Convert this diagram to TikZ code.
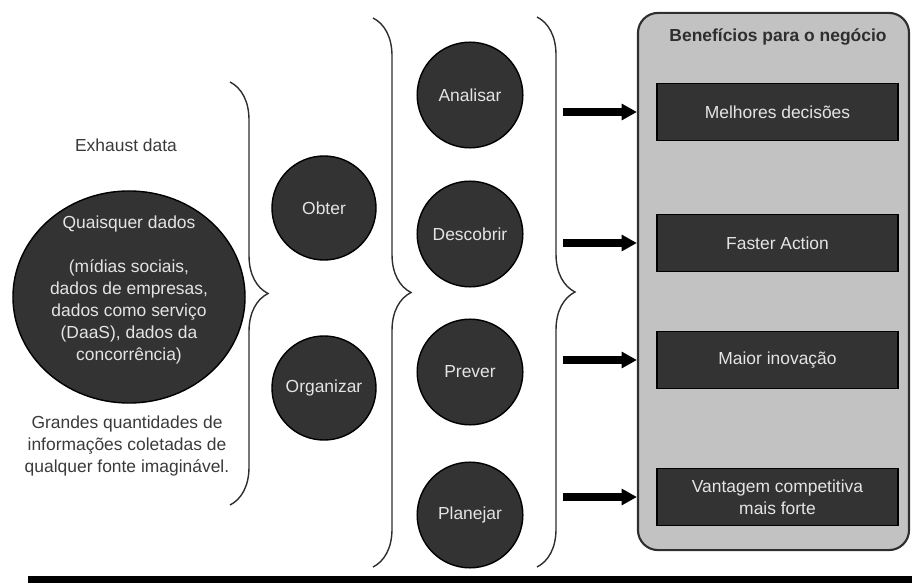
\documentclass[tikz,border=0pt]{standalone}
\usepackage{fontspec}
\setmainfont{Liberation Sans}
\usepackage{xcolor}
\usepackage{tikz}
\usetikzlibrary{arrows.meta,positioning,shapes.geometric,decorations.pathreplacing,calc}
\tikzset{
  fatarrow/.style={-{Triangle[length=3.8mm,width=3.9mm]}, line width=5.6pt, draw=black},
  bracket/.style={decorate, decoration={brace, amplitude=0.95cm}, line width=1pt, draw=DarkInk},
  plaintext/.style={text=SoftInk, align=center, inner sep=0pt}
}
\definecolor{DarkInk}{HTML}{2E2E2E}
\definecolor{SoftInk}{HTML}{3A3A3A}
\definecolor{NodeFill}{HTML}{333333}
\definecolor{PanelFill}{HTML}{C2C2C2}
\definecolor{PaleText}{HTML}{E4E4E4}

\begin{document}
\begin{tikzpicture}[
  x=0.025cm, y=-0.025cm,
  font=\fontsize{12.4}{15.6}\selectfont,
  blob/.style={circle, draw=black, line width=1pt, fill=NodeFill, text=PaleText, align=center, minimum size=2.64cm, inner sep=0pt},
  benefit/.style={draw=black, line width=1pt, fill=NodeFill, text=PaleText, align=center, minimum width=6.025cm, minimum height=1.43cm, inner sep=2pt}
]
\useasboundingbox (0,0) rectangle (912,583);

\node[plaintext] at (126,145) (exhaust) {Exhaust data};
\node[ellipse, draw=black, line width=1pt, fill=NodeFill, minimum width=5.8cm, minimum height=5.3cm] at (129,297) (dados) {};
\node[plaintext, text=PaleText] at (129,290) (dadostxt) {Quaisquer dados\\[15.6pt](mídias sociais,\\dados de empresas,\\dados como serviço\\(DaaS), dados da\\concorrência)};
\node[plaintext] at (127,446) (grandes) {Grandes quantidades de\\informações coletadas de\\qualquer fonte imaginável.};

\coordinate (leftbracetop) at (230,82);
\coordinate (leftbracebot) at (230,505);
\draw[bracket] (leftbracetop) -- (leftbracebot);

\node[blob, minimum size=2.6cm] at (324,208) (obter) {Obter};
\node[blob, minimum size=2.6cm] at (324,388) (organizar) {Organizar};

\coordinate (midbracetop) at (373,18);
\coordinate (midbracebot) at (373,567);
\draw[bracket] (midbracetop) -- (midbracebot);

\node[blob] at (470,95) (analisar) {Analisar};
\node[blob] at (470,234) (descobrir) {Descobrir};
\node[blob] at (470,372) (prever) {Prever};
\node[blob] at (470,515) (planejar) {Planejar};

\coordinate (rightbracetop) at (537,17);
\coordinate (rightbracebot) at (537,567);
\draw[bracket] (rightbracetop) -- (rightbracebot);

\node[draw=DarkInk, line width=1.5pt, fill=PanelFill, rounded corners=0.5cm, minimum width=6.775cm, minimum height=13.425cm, inner sep=0pt] at (773.5,281.5) (panel) {};
\node[font=\fontsize{12.4}{15.6}\selectfont\bfseries, text=DarkInk] at (778,37) (paneltitle) {Benefícios para o negócio};

\node[benefit] at (777.5,112) (melhores) {Melhores decisões};
\node[benefit] at (777.5,243) (faster) {Faster Action};
\node[benefit] at (777.5,360) (inovacao) {Maior inovação};
\node[benefit] at (777.5,497) (vantagem) {Vantagem competitiva\\mais forte};

\coordinate (arrowfoot) at (563,0);
\draw[fatarrow] (arrowfoot |- melhores) -- (panel.west |- melhores);
\draw[fatarrow] (arrowfoot |- faster) -- (panel.west |- faster);
\draw[fatarrow] (arrowfoot |- inovacao) -- (panel.west |- inovacao);
\draw[fatarrow] (arrowfoot |- vantagem) -- (panel.west |- vantagem);

\fill[black] (28,576) rectangle (912,584);
\end{tikzpicture}
\end{document}
